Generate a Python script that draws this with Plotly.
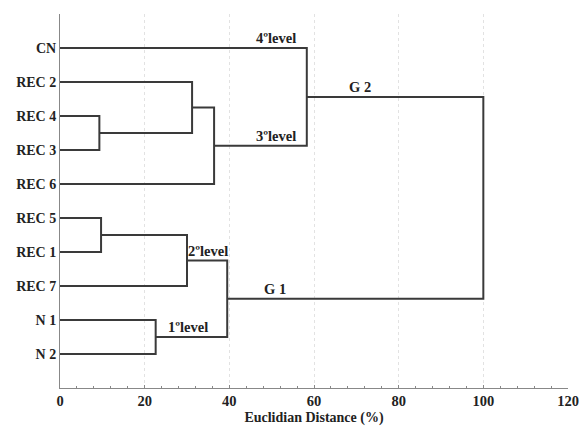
import plotly.graph_objects as go

# ---- data ----
leaves = ["CN", "REC 2", "REC 4", "REC 3", "REC 6", "REC 5", "REC 1", "REC 7", "N 1", "N 2"]
# merges: new cluster id = len(leaves) + index
merge_left = [2, 5, 8, 7, 1, 14, 13, 0, 17]
merge_right = [3, 6, 9, 11, 10, 4, 12, 15, 16]
merge_height = [9.3, 9.7, 22.6, 30.0, 31.2, 36.4, 39.5, 58.3, 100.0]

level_labels = ["4ºlevel", "3ºlevel", "G 2", "G 1", "2ºlevel", "1ºlevel"]
level_x = [51.0, 51.0, 70.8, 50.7, 35.0, 30.2]
level_cluster = [0, 15, 17, 16, 13, 12]

# ---- build dendrogram geometry ----
pos_y = {i: float(i) for i in range(len(leaves))}
pos_x = {i: 0.0 for i in range(len(leaves))}
xs, ys = [], []
for k, (a, b, h) in enumerate(zip(merge_left, merge_right, merge_height)):
    cid = len(leaves) + k
    xs += [pos_x[a], h, h, pos_x[b], None]
    ys += [pos_y[a], pos_y[a], pos_y[b], pos_y[b], None]
    pos_x[cid] = h
    pos_y[cid] = (pos_y[a] + pos_y[b]) / 2

fig = go.Figure()
fig.add_trace(go.Scatter(x=xs, y=ys, mode="lines",
                         line=dict(color="#3a3a3a", width=2),
                         hoverinfo="skip", showlegend=False))

font_serif = "Liberation Serif"
for txt, lx, cl in zip(level_labels, level_x, level_cluster):
    fs = 14.5 if "level" in txt else 14.5
    fig.add_annotation(x=lx, y=pos_y[cl], text="<b>" + txt + "</b>",
                       showarrow=False, yanchor="bottom", yshift=0,
                       font=dict(family=font_serif, size=fs, color="#222222"))

fig.update_layout(
    width=579, height=426,
    margin=dict(l=60, r=11, t=14, b=38),
    paper_bgcolor="white", plot_bgcolor="white",
    font=dict(family=font_serif, size=14, color="#222222"),
    xaxis=dict(range=[0, 120], tickvals=[0, 20, 40, 60, 80, 100, 120],
               ticktext=["<b>%d</b>" % v for v in [0, 20, 40, 60, 80, 100, 120]],
               showgrid=True, gridcolor="#e2e2e2", griddash="dot", gridwidth=1,
               showline=True, linecolor="#888888", linewidth=1,
               ticks="inside", ticklen=3, tickcolor="#888888",
               minor=dict(dtick=4, ticks="inside", ticklen=2, tickcolor="#888888", showgrid=False),
               zeroline=False, automargin=False,
               tickfont=dict(family=font_serif, size=14.5),
               title=dict(text="<b>Euclidian Distance (%)</b>", standoff=6,
                          font=dict(family=font_serif, size=14))),
    yaxis=dict(range=[10, -1], tickvals=list(range(len(leaves))),
               ticktext=["<b>%s</b>" % s for s in leaves],
               showgrid=False, zeroline=False, automargin=False,
               showline=True, linecolor="#888888", linewidth=1,
               ticks="", tickfont=dict(family=font_serif, size=14)),
)

fig.write_html("out.html", config={"displayModeBar": False},
               post_script="document.body.style.margin='0';")
